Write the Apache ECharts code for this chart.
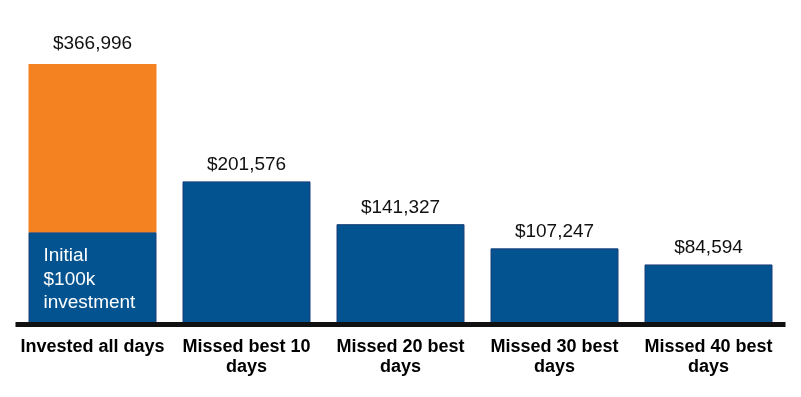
<!DOCTYPE html>
<html>
<head>
<meta charset="utf-8">
<script src="https://cdn.jsdelivr.net/npm/echarts@6/dist/echarts.min.js"></script>
<style>
  html, body { margin: 0; padding: 0; background: #fff; }
  #main { width: 801px; height: 397px; }
</style>
</head>
<body>
<div id="main"></div>
<script>
var categories = ["Invested all days", "Missed best 10\ndays", "Missed 20 best\ndays", "Missed 30 best\ndays", "Missed 40 best\ndays"];
// ending values
var totals = [366996, 201576, 141327, 107247, 84594];
// blue part of the first bar as drawn (the "initial $100k" block)
var baseBlock = 130000;
var totalLabels = ["$366,996", "$201,576", "$141,327", "$107,247", "$84,594"];

var blueData = totals.map(function (v, i) {
  if (i === 0) {
    return {
      value: baseBlock,
      label: {
        show: true,
        position: [15, 12],
        align: "left",
        verticalAlign: "top",
        formatter: "Initial\n$100k\ninvestment",
        color: "#fff",
        fontSize: 19,
        lineHeight: 23.5,
        fontFamily: "Liberation Sans"
      }
    };
  }
  return v;
});
var orangeData = totals.map(function (v, i) {
  if (i === 0) {
    return { value: v - baseBlock, label: { distance: 11 } };
  }
  return 0;
});

var myChart = echarts.init(document.getElementById("main"));
var option = {
  animation: false,
  grid: { left: 15.5, right: 15.5, top: 40.5, bottom: 72.5 },
  xAxis: {
    type: "category",
    data: categories,
    z: 5,
    axisLine: { lineStyle: { color: "#111", width: 5, cap: "butt" } },
    axisTick: { show: false },
    axisLabel: {
      color: "#000",
      fontSize: 18,
      fontWeight: "bold",
      fontFamily: "Liberation Sans",
      lineHeight: 20,
      margin: 13,
      interval: 0
    }
  },
  yAxis: {
    type: "value",
    min: 0,
    max: 400000,
    show: false,
    splitLine: { show: false }
  },
  series: [
    {
      name: "blue",
      type: "bar",
      stack: "total",
      barWidth: 128,
      itemStyle: { color: "#02538F", borderColor: "#1B3F7A", borderWidth: 1 },
      data: blueData
    },
    {
      name: "orange",
      type: "bar",
      stack: "total",
      barWidth: 128,
      itemStyle: { color: "#F58220" },
      label: {
        show: true,
        position: "top",
        distance: 7,
        color: "#111",
        fontSize: 19,
        fontFamily: "Liberation Sans",
        formatter: function (p) { return totalLabels[p.dataIndex]; }
      },
      data: orangeData
    }
  ]
};
myChart.setOption(option);
</script>
</body>
</html>
